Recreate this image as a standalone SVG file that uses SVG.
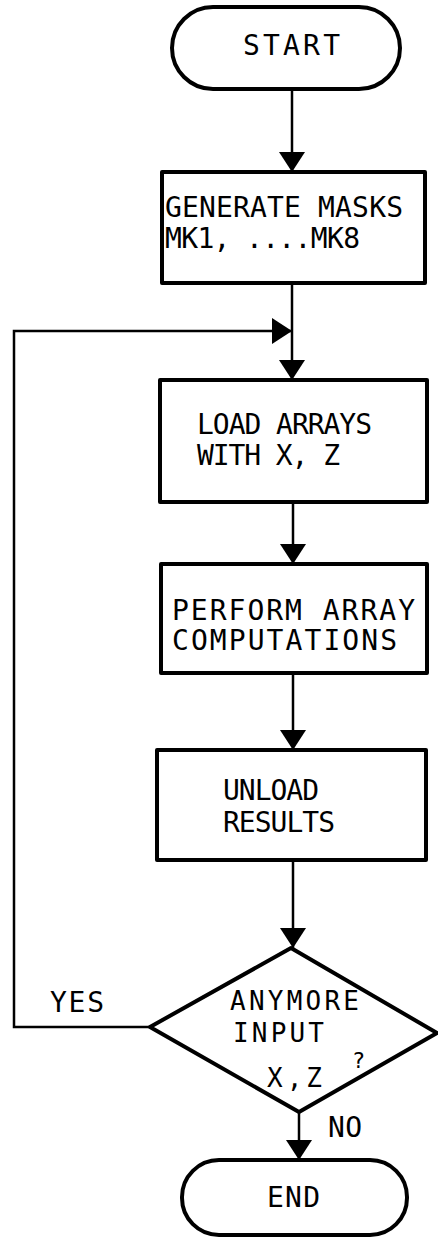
<svg xmlns="http://www.w3.org/2000/svg" width="438" height="1237" viewBox="0 0 438 1237">
<style>
.shape{fill:#fff;stroke:#000;stroke-width:4;stroke-linejoin:round}
.conn{fill:none;stroke:#000;stroke-width:2.5}
text{font-family:"DejaVu Sans Mono","Liberation Mono",monospace;font-size:28px;fill:#000}
.small{font-size:26px}
</style>
<defs>
<marker id="arr" markerUnits="userSpaceOnUse" markerWidth="22" markerHeight="28" refX="20" refY="13" orient="auto" viewBox="0 0 22 28">
<path d="M0,0 L20,13 L0,26 z" fill="#000"/>
</marker>
</defs>
<rect width="438" height="1237" fill="#fff"/>
<g id="connectors">
<line class="conn" x1="292" y1="89" x2="292" y2="172" marker-end="url(#arr)"/>
<line class="conn" x1="292" y1="283" x2="292" y2="380" marker-end="url(#arr)"/>
<path class="conn" d="M150,1027 L14,1027 L14,331 L292,331" marker-end="url(#arr)"/>
<line class="conn" x1="293" y1="502" x2="293" y2="564" marker-end="url(#arr)"/>
<line class="conn" x1="293" y1="673" x2="293" y2="750" marker-end="url(#arr)"/>
<line class="conn" x1="293" y1="860" x2="293" y2="948" marker-end="url(#arr)"/>
<line class="conn" x1="299" y1="1112" x2="299" y2="1160" marker-end="url(#arr)"/>
</g>
<g id="start">
<rect class="shape" x="172" y="7" width="228" height="82" rx="41" ry="41"/>
<text x="243" y="55" textLength="97" lengthAdjust="spacing">START</text>
</g>
<g id="generate">
<rect class="shape" x="162" y="172" width="263" height="111"/>
<text x="165" y="217" textLength="238" lengthAdjust="spacing">GENERATE MASKS</text>
<text x="165" y="248" textLength="195" lengthAdjust="spacing">MK1, ....MK8</text>
</g>
<g id="load">
<rect class="shape" x="160" y="380" width="267" height="122"/>
<text x="197" y="434" textLength="175" lengthAdjust="spacing">LOAD ARRAYS</text>
<text x="197" y="465" textLength="143" lengthAdjust="spacing">WITH X, Z</text>
</g>
<g id="perform">
<rect class="shape" x="161" y="564" width="266" height="109"/>
<text x="172" y="620" textLength="243" lengthAdjust="spacing">PERFORM ARRAY</text>
<text x="172" y="650" textLength="225" lengthAdjust="spacing">COMPUTATIONS</text>
</g>
<g id="unload">
<rect class="shape" x="157" y="750" width="269" height="110"/>
<text x="223" y="800" textLength="96" lengthAdjust="spacing">UNLOAD</text>
<text x="223" y="832" textLength="112" lengthAdjust="spacing">RESULTS</text>
</g>
<g id="decision">
<polygon class="shape" points="291,948 437,1033 299,1112 150,1027"/>
<text class="small" x="230" y="1010" textLength="129" lengthAdjust="spacing">ANYMORE</text>
<text class="small" x="233" y="1042" textLength="91" lengthAdjust="spacing">INPUT</text>
<text class="small" x="267" y="1087" textLength="55" lengthAdjust="spacing">X,Z</text>
<text x="352" y="1068" style="font-size:22px">?</text>
</g>
<g id="labels">
<text x="50" y="1012" textLength="54" lengthAdjust="spacing">YES</text>
<text x="328" y="1137" textLength="34" lengthAdjust="spacing">NO</text>
</g>
<g id="end">
<rect class="shape" x="182" y="1160" width="225" height="75" rx="37" ry="37"/>
<text x="267" y="1207" textLength="53" lengthAdjust="spacing">END</text>
</g>
</svg>
